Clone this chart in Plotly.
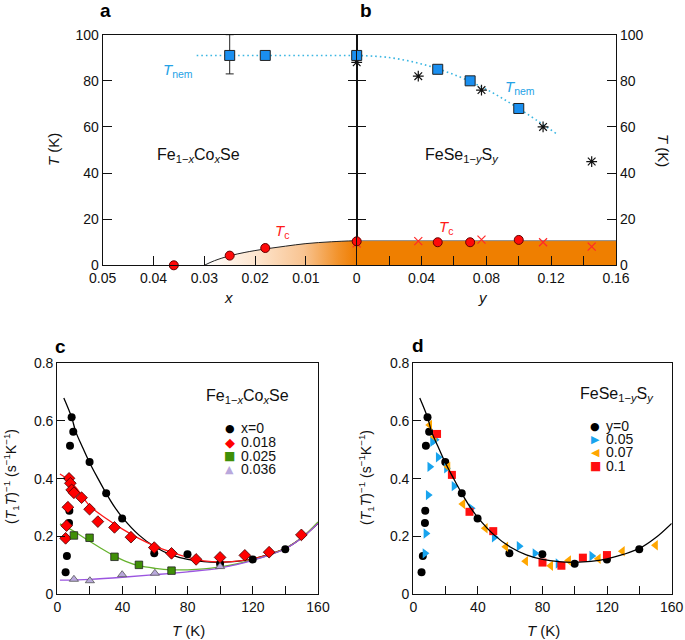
import plotly.graph_objects as go

W, H = 685, 640
def PX(x): return x / W
def PY(y): return 1 - y / H

FONT = "Liberation Sans, Arial, sans-serif"

# ---------------- Panel a : Fe1-xCoxSe phase diagram ----------------
co_x_nem = [0.025, 0.018]
co_T_nem = [91, 91]
co_T_nem_err_plus = [9, 0]
co_T_nem_err_minus = [8, 0]
co_nem_line_x = [0.0315, 0.0]
co_nem_line_T = [91, 91]
co_x_tc = [0.036, 0.025, 0.018]
co_T_tc = [0.0, 4.2, 7.5]
co_tc_curve_x = [0.03, 0.028, 0.025, 0.022, 0.018, 0.014, 0.01, 0.005, 0.0]
co_tc_curve_T = [0.0, 2.0, 4.1, 5.6, 7.1, 8.3, 9.4, 10.2, 10.7]

# ---------------- Panel b : FeSe1-ySy phase diagram ----------------
s_y_nem = [0.0, 0.05, 0.07, 0.10]
s_T_nem = [91, 85, 80, 68]
s_y_star = [0.0, 0.038, 0.077, 0.115, 0.145]
s_T_star = [88, 82, 76, 60, 45]
s_nem_curve_y = [0.0, 0.02, 0.04, 0.06, 0.08, 0.10, 0.1244]
s_nem_curve_T = [91, 90.1, 87.3, 82.7, 76.3, 68, 56.5]
s_y_tc = [0.0, 0.05, 0.07, 0.10]
s_T_tc = [10.4, 10.0, 10.0, 11.0]
s_y_tcx = [0.0, 0.038, 0.077, 0.115, 0.145]
s_T_tcx = [9.5, 10.5, 11.1, 10.0, 8.1]
s_band_y = [0.0, 0.16]
s_band_T = [10.7, 10.7]

# ---------------- Panel c / d : (T1T)^-1 vs T ----------------
x0_T = [5.1, 5.9, 7.2, 7.4, 7.8, 8.8, 9.8, 19.8, 30, 39.8, 59.5, 79.9, 99.9, 119.9, 139.9]
x0_v = [0.075, 0.132, 0.246, 0.289, 0.514, 0.613, 0.563, 0.458, 0.349, 0.262, 0.141, 0.138, 0.105, 0.120, 0.155]

x018_T = [5.1, 5.7, 6.5, 7.2, 8.0, 8.8, 10.2, 14.9, 19.8, 24.9, 35.1, 45.2, 59.5, 70.1, 85.2, 99.9, 115.1, 130.0, 149.8]
x018_v = [0.193, 0.237, 0.301, 0.401, 0.384, 0.361, 0.351, 0.334, 0.294, 0.251, 0.231, 0.197, 0.161, 0.141, 0.120, 0.127, 0.134, 0.145, 0.205]

x025_T = [10.2, 19.8, 35.1, 50.1, 70.1]
x025_v = [0.203, 0.195, 0.129, 0.101, 0.081]

x036_T = [10.2, 20.0, 39.8, 59.9, 99.9]
x036_v = [0.051, 0.046, 0.067, 0.072, 0.095]

fit0_T = [4, 8.8, 11.3, 15, 19.6, 25, 30, 35, 40, 50, 60, 70, 80, 90, 100, 110, 120, 130, 140, 150, 160]
fit0_v = [0.68, 0.613, 0.563, 0.515, 0.458, 0.40, 0.349, 0.303, 0.265, 0.205, 0.163, 0.136, 0.12, 0.112, 0.11, 0.113, 0.122, 0.137, 0.158, 0.195, 0.245]
fit018_T = [1.6, 7, 12, 20, 30, 40, 50, 60, 70, 80, 90, 100, 110, 120, 130, 140, 150, 160]
fit018_v = [0.416, 0.395, 0.365, 0.305, 0.262, 0.225, 0.193, 0.166, 0.145, 0.127, 0.115, 0.111, 0.114, 0.121, 0.137, 0.158, 0.195, 0.247]
fit025_T = [1.6, 10, 18.6, 27, 35, 42, 50, 60, 70, 80, 90, 100, 110, 120, 130, 140, 150, 160]
fit025_v = [0.243, 0.218, 0.187, 0.158, 0.132, 0.113, 0.098, 0.089, 0.084, 0.084, 0.087, 0.094, 0.104, 0.118, 0.135, 0.158, 0.195, 0.25]
fit036_T = [1.6, 20, 40, 60, 80, 100, 110, 120, 130, 140, 150, 160]
fit036_v = [0.048, 0.051, 0.058, 0.067, 0.077, 0.09, 0.102, 0.117, 0.135, 0.157, 0.194, 0.245]

y005_T = [7.2, 7.8, 9.2, 10.2, 11.9, 13.5, 15.4, 20.5, 25.2, 35.8, 50.1, 65.5, 75.3, 89.6, 110.5]
y005_v = [0.141, 0.210, 0.343, 0.441, 0.528, 0.535, 0.474, 0.436, 0.374, 0.297, 0.197, 0.166, 0.141, 0.106, 0.132]
y007_T = [10.2, 13.0, 21.5, 30.7, 44.6, 57.3, 69.6, 85.1, 96.2, 114.6, 129.5, 150.0]
y007_v = [0.586, 0.545, 0.441, 0.312, 0.228, 0.164, 0.114, 0.098, 0.116, 0.122, 0.148, 0.169]
y01_T = [14.7, 23.9, 34.8, 49.5, 80.0, 91.7, 105.0, 119.9]
y01_v = [0.555, 0.413, 0.285, 0.218, 0.109, 0.098, 0.126, 0.135]

T_ticks_d = [0, 40, 80, 120]
T_last_tick_label = "160"

leg_c_labels = ["x=0", "0.018", "0.025", "0.036"]
leg_d_labels = ["y=0", "0.05", "0.07", "0.1"]

# ---------------- colours ----------------
C_NEM = "#1a8ff0"
C_NEMTXT = "#25a2e6"
C_DOT = "#3bb6e2"
C_RED = "#ff0a0a"
C_ORANGE = "#ef7f00"
C_GREEN = "#3f8f07"
C_GREEN_L = "#66b22e"
C_LAV = "#b9a8dc"
C_PURP = "#9b55e0"
C_BLUE = "#18a4ee"
C_YEL = "#ffa600"

fig = go.Figure()

# ---- panel a traces (xaxis / yaxis) ----
fig.add_trace(go.Scatter(x=co_tc_curve_x, y=co_tc_curve_T, mode="lines", fill="tozeroy",
                         line=dict(color="#222", width=1), line_shape="spline",
                         fillgradient=dict(type="horizontal", start=0.0, stop=0.03,
                                           colorscale=[[0, "#ef7d00"], [0.12, "#f2922a"], [0.35, "#f8c492"],
                                                       [0.65, "#fde4cc"], [1, "#ffffff"]]),
                         xaxis="x", yaxis="y", showlegend=False, hoverinfo="skip"))
fig.add_trace(go.Scatter(x=co_nem_line_x, y=co_nem_line_T, mode="lines",
                         line=dict(color=C_DOT, width=1.6, dash="1.6px,3px"),
                         xaxis="x", yaxis="y", showlegend=False))
fig.add_trace(go.Scatter(x=co_x_nem, y=co_T_nem, mode="markers",
                         marker=dict(symbol="square", size=10, color=C_NEM, line=dict(color="#222", width=1)),
                         error_y=dict(type="data", symmetric=False, array=co_T_nem_err_plus,
                                      arrayminus=co_T_nem_err_minus, color="#222", thickness=1, width=4),
                         xaxis="x", yaxis="y", showlegend=False, cliponaxis=False))
fig.add_trace(go.Scatter(x=co_x_tc, y=co_T_tc, mode="markers",
                         marker=dict(symbol="circle", size=9, color=C_RED, line=dict(color="#600", width=1)),
                         xaxis="x", yaxis="y", showlegend=False, cliponaxis=False))

# ---- panel b traces (xaxis2 / yaxis2) ----
fig.add_trace(go.Scatter(x=s_band_y, y=s_band_T, mode="lines", fill="tozeroy", fillcolor=C_ORANGE,
                         line=dict(color="#8a8a8a", width=1),
                         xaxis="x2", yaxis="y2", showlegend=False, hoverinfo="skip"))
fig.add_trace(go.Scatter(x=s_nem_curve_y, y=s_nem_curve_T, mode="lines", line_shape="spline",
                         line=dict(color=C_DOT, width=1.6, dash="1.6px,3px"),
                         xaxis="x2", yaxis="y2", showlegend=False))
fig.add_trace(go.Scatter(x=s_y_star, y=s_T_star, mode="markers",
                         marker=dict(symbol="asterisk-open", size=9, color="#111", line=dict(color="#111", width=1.2)),
                         xaxis="x2", yaxis="y2", showlegend=False, cliponaxis=False))
fig.add_trace(go.Scatter(x=s_y_nem, y=s_T_nem, mode="markers",
                         marker=dict(symbol="square", size=10, color=C_NEM, line=dict(color="#222", width=1)),
                         xaxis="x2", yaxis="y2", showlegend=False, cliponaxis=False))
fig.add_trace(go.Scatter(x=s_y_tcx, y=s_T_tcx, mode="markers",
                         marker=dict(symbol="x-thin-open", size=8, color="#ff2a2a", line=dict(color="#ff2a2a", width=1.2)),
                         xaxis="x2", yaxis="y2", showlegend=False, cliponaxis=False))
fig.add_trace(go.Scatter(x=s_y_tc, y=s_T_tc, mode="markers",
                         marker=dict(symbol="circle", size=9, color=C_RED, line=dict(color="#600", width=1)),
                         xaxis="x2", yaxis="y2", showlegend=False, cliponaxis=False))

# ---- panel c traces (xaxis3 / yaxis3) ----
for T, v, c in [(fit0_T, fit0_v, "#000000"), (fit018_T, fit018_v, "#ff1a1a"),
                 (fit025_T, fit025_v, C_GREEN_L), (fit036_T, fit036_v, C_PURP)]:
    fig.add_trace(go.Scatter(x=T, y=v, mode="lines", line_shape="spline", line=dict(color=c, width=1.3),
                             xaxis="x3", yaxis="y3", showlegend=False))
fig.add_trace(go.Scatter(x=x0_T, y=x0_v, mode="markers",
                         marker=dict(symbol="circle", size=8, color="#000"),
                         xaxis="x3", yaxis="y3", showlegend=False, cliponaxis=False))
fig.add_trace(go.Scatter(x=x018_T, y=x018_v, mode="markers",
                         marker=dict(symbol="diamond", size=9, color="#ff0000", line=dict(color="#400", width=0.8)),
                         xaxis="x3", yaxis="y3", showlegend=False, cliponaxis=False))
fig.add_trace(go.Scatter(x=x025_T, y=x025_v, mode="markers",
                         marker=dict(symbol="square", size=7.5, color=C_GREEN, line=dict(color="#222", width=0.8)),
                         xaxis="x3", yaxis="y3", showlegend=False, cliponaxis=False))
fig.add_trace(go.Scatter(x=x036_T, y=x036_v, mode="markers",
                         marker=dict(symbol="triangle-up", size=8, color=C_LAV, line=dict(color="#555", width=0.8)),
                         xaxis="x3", yaxis="y3", showlegend=False, cliponaxis=False))

# ---- panel d traces (xaxis4 / yaxis4) ----
fig.add_trace(go.Scatter(x=x0_T, y=x0_v, mode="markers",
                         marker=dict(symbol="circle", size=8, color="#000"),
                         xaxis="x4", yaxis="y4", showlegend=False, cliponaxis=False))
fig.add_trace(go.Scatter(x=y005_T, y=y005_v, mode="markers",
                         marker=dict(symbol="triangle-right", size=9, color=C_BLUE),
                         xaxis="x4", yaxis="y4", showlegend=False, cliponaxis=False))
fig.add_trace(go.Scatter(x=y007_T, y=y007_v, mode="markers",
                         marker=dict(symbol="triangle-left", size=9, color=C_YEL),
                         xaxis="x4", yaxis="y4", showlegend=False, cliponaxis=False))
fig.add_trace(go.Scatter(x=y01_T, y=y01_v, mode="markers",
                         marker=dict(symbol="square", size=8, color="#ff1010"),
                         xaxis="x4", yaxis="y4", showlegend=False, cliponaxis=False))
fig.add_trace(go.Scatter(x=fit0_T, y=fit0_v, mode="lines", line_shape="spline",
                         line=dict(color="#000", width=1.3), xaxis="x4", yaxis="y4", showlegend=False))

# ---------------- axes ----------------
tickfont = dict(family=FONT, size=14, color="#111")
common = dict(showline=True, linecolor="#111", linewidth=1.2, ticks="inside", tickcolor="#111",
              tickwidth=1.2, showgrid=False, zeroline=False, tickfont=tickfont, automargin=False,
              ticklabeloverflow="allow")

xa_dom = [PX(102.7), PX(356.7)]
xb_dom = [PX(356.7), PX(616)]
yab_dom = [PY(265.3), PY(34.7)]
xc_dom = [PX(57.3), PX(318)]
xd_dom = [PX(413.3), PX(671.7)]
ycd_dom = [PY(594), PY(363.3)]

fig.update_layout(
    xaxis=dict(domain=xa_dom, range=[0.05, 0], anchor="y", tickvals=[0.05, 0.04, 0.03, 0.02, 0.01],
               ticklen=9, mirror=True, **common),
    yaxis=dict(domain=yab_dom, range=[0, 100], anchor="x", dtick=20, ticklen=9, mirror="ticks", **common),
    xaxis2=dict(domain=xb_dom, range=[0, 0.16], anchor="y2", dtick=0.04, ticklen=9, mirror=True,
                minor=dict(dtick=0.02, ticks="inside", ticklen=9, tickcolor="#111", tickwidth=1.2), **common),
    yaxis2=dict(domain=yab_dom, range=[0, 100], anchor="x2", side="right", dtick=20, ticklen=9,
                mirror="ticks", **common),
    xaxis3=dict(domain=xc_dom, range=[0, 160], anchor="y3", dtick=40, ticklen=8, mirror=True,
                minor=dict(dtick=20, ticks="inside", ticklen=8, tickcolor="#111", tickwidth=1.2), **common),
    yaxis3=dict(domain=ycd_dom, range=[0, 0.8], anchor="x3", dtick=0.2, ticklen=8, mirror=True, **common),
    xaxis4=dict(domain=xd_dom, range=[0, 160], anchor="y4", tickvals=T_ticks_d, ticklen=8, mirror=True,
                minor=dict(dtick=20, ticks="inside", ticklen=8, tickcolor="#111", tickwidth=1.2), **common),
    yaxis4=dict(domain=ycd_dom, range=[0, 0.8], anchor="x4", dtick=0.2, ticklen=8, mirror=True, **common),
)

# ---------------- annotations ----------------
ann = []
def text(x, y, s, size=14, color="#111", angle=0, xanchor="center", family=FONT):
    ann.append(dict(x=PX(x), y=PY(y), xref="paper", yref="paper", text=s, showarrow=False,
                    font=dict(family=family, size=size, color=color), textangle=angle,
                    xanchor=xanchor, yanchor="middle", borderpad=0))

# last tick label of panel d (placed at the axis end, right under the 160 K edge)
ann.append(dict(x=160, xref="x4", y=PY(606.5), yref="paper", text=T_last_tick_label, showarrow=False,
                font=dict(family=FONT, size=14, color="#111"), xanchor="center", yanchor="middle",
                borderpad=0))

# panel labels
for lab, x, y in [("a", 105, 10), ("b", 366, 10), ("c", 60, 346), ("d", 418, 345)]:
    text(x, y, "<b>%s</b>" % lab, size=19, color="#000")

# axis titles
text(53, 150, "<i>T</i> (K)", size=15, angle=-90)
text(664, 150, "<i>T</i> (K)", size=15, angle=90)
text(228, 297, "<i>x</i>", size=15)
text(483, 297, "<i>y</i>", size=15)
ytitle = "(<i>T</i><sub>1</sub><i>T</i>)<sup>\u22121</sup> (s<sup>\u22121</sup>K<sup>\u22121</sup>)"
text(11, 477, ytitle, size=14, angle=-90)
text(366, 477, ytitle, size=14, angle=-90)
text(188, 630, "<i>T</i> (K)", size=15)
text(543, 630, "<i>T</i> (K)", size=15)

# compound names and phase labels
co_name = "Fe<sub>1\u2212<i>x</i></sub>Co<sub><i>x</i></sub>Se"
s_name = "FeSe<sub>1\u2212<i>y</i></sub>S<sub><i>y</i></sub>"
text(198, 155, co_name, size=16)
text(462, 155, s_name, size=16)
text(247, 396, co_name, size=16)
text(617, 394, s_name, size=16)
text(178, 70, "<i>T</i><sub>nem</sub>", size=15, color=C_NEMTXT)
text(520, 88, "<i>T</i><sub>nem</sub>", size=15, color=C_NEMTXT)
text(282, 231, "<i>T</i><sub>c</sub>", size=15, color="#ff1a1a")
text(446, 228, "<i>T</i><sub>c</sub>", size=15, color="#ff1a1a")

# legends of c and d
GF = "DejaVu Sans, sans-serif"
leg_c_sym = [("\u25cf", "#000", 11), ("\u25c6", "#ff0000", 13), ("\u25a0", C_GREEN, 12), ("\u25b2", C_LAV, 11)]
leg_c_rows = [428, 442.3, 455.7, 469.3]
for (sym, col, sz), lab, yy in zip(leg_c_sym, leg_c_labels, leg_c_rows):
    text(230, yy, sym, size=sz, color=col, family=GF)
    text(240, yy, lab, size=14, xanchor="left")
leg_d_sym = [("\u25cf", "#000", 11), ("\u25b6", C_BLUE, 11), ("\u25c0", C_YEL, 11), ("\u25a0", "#ff1010", 12)]
leg_d_rows = [426, 439, 452.3, 465.7]
for (sym, col, sz), lab, yy in zip(leg_d_sym, leg_d_labels, leg_d_rows):
    text(595, yy, sym, size=sz, color=col, family=GF)
    text(605, yy, lab, size=14, xanchor="left")

fig.update_layout(
    annotations=ann,
    width=W, height=H,
    margin=dict(l=0, r=0, t=0, b=0, pad=0, autoexpand=False),
    paper_bgcolor="white", plot_bgcolor="rgba(0,0,0,0)",
    font=dict(family=FONT, size=14, color="#111"),
    showlegend=False,
)

fig.write_html("out.html", config={"displayModeBar": False},
               post_script="document.body.style.margin='0';document.body.style.padding='0';"
                           "document.body.style.overflow='hidden';")
